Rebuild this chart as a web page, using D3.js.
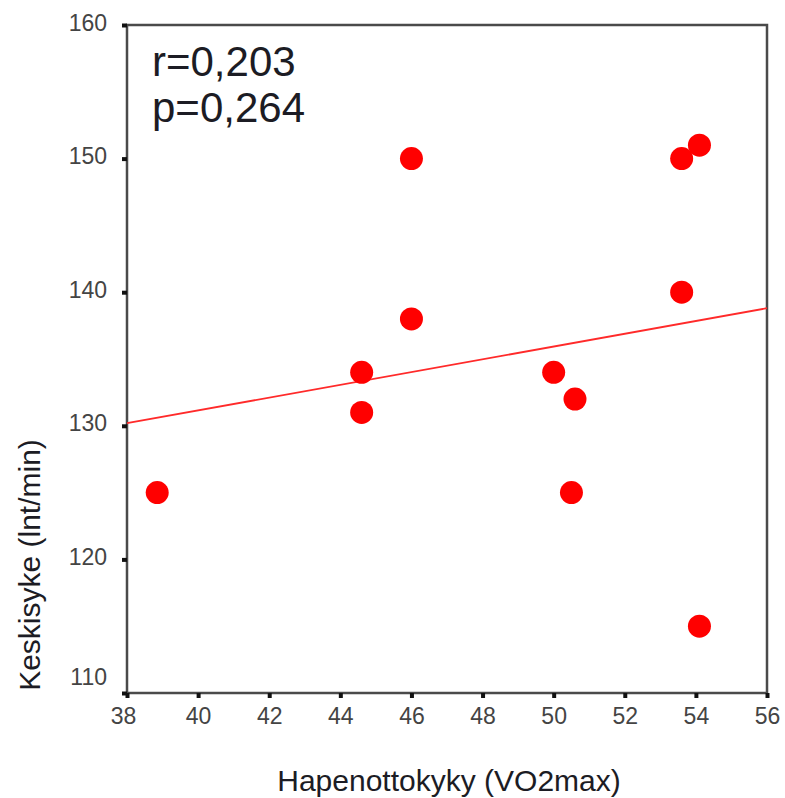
<!DOCTYPE html>
<html lang="fi">
<head>
<meta charset="utf-8">
<script src="https://d3js.org/d3.v7.min.js"></script>
<style>
body { margin: 0; background: #fff; }
.tick text { font-family: "Liberation Sans", Arial, sans-serif; fill: #444; }
.title { font-family: "Liberation Sans", Arial, sans-serif; fill: #1c1c24; }
</style>
</head>
<body>
<svg width="785" height="798"></svg>
<script>
// VO2max (x) vs mean heart rate (y), visible points
var vo2 = [38.85, 44.6, 44.6, 46.0, 46.0, 50.0, 50.6, 50.5, 53.6, 54.1, 53.6, 54.1];
var hr  = [125,   134,  131,  138,  150,  134,  132,  125,  150,  151,  140,  115];

// fitted line end points
var fitX = [38, 56];
var fitY = [130.2, 138.8];

var xTicks = [38, 40, 42, 44, 46, 48, 50, 52, 54, 56];
var yTicks = [110, 120, 130, 140, 150, 160];
var statLines = ["r=0,203", "p=0,264"];

var svg = d3.select("svg"),
    margin = {top: 25, right: 18, bottom: 105, left: 127},
    width = +svg.attr("width") - margin.left - margin.right,
    height = +svg.attr("height") - margin.top - margin.bottom;

var x = d3.scaleLinear().domain([38, 56]).range([0, width]);
var y = d3.scaleLinear().domain([110, 160]).range([height, 0]);

var g = svg.append("g")
    .attr("transform", "translate(" + margin.left + "," + margin.top + ")");

// frame
g.append("rect")
    .attr("width", width)
    .attr("height", height)
    .attr("fill", "none")
    .attr("stroke", "#4a4a4a")
    .attr("stroke-width", 2.5);

// x axis
var xAxis = g.append("g")
    .attr("transform", "translate(0," + height + ")")
    .call(d3.axisBottom(x).tickValues(xTicks).tickSize(5).tickSizeOuter(0).tickPadding(10));
xAxis.select(".domain").remove();
xAxis.selectAll(".tick line").attr("stroke", "#111").attr("stroke-width", 4);
xAxis.selectAll(".tick text").attr("font-size", 23)
    .attr("dx", function(d) { return d === 38 ? -4 : 0; });

// y axis
var yAxis = g.append("g")
    .call(d3.axisLeft(y).tickValues(yTicks).tickSize(5).tickSizeOuter(0).tickPadding(15));
yAxis.select(".domain").remove();
yAxis.selectAll(".tick line").attr("stroke", "#111").attr("stroke-width", 4);
yAxis.selectAll(".tick text").attr("font-size", 23)
    .attr("dy", function(d) { return d === 110 ? "-0.35em" : "0.22em"; });

// regression line
g.append("line")
    .attr("x1", x(fitX[0])).attr("y1", y(fitY[0]))
    .attr("x2", x(fitX[1])).attr("y2", y(fitY[1]))
    .attr("stroke", "#ff2a2a")
    .attr("stroke-width", 1.8);

// points
var pts = vo2.map(function(v, i) { return {x: v, y: hr[i]}; });
g.selectAll(".dot")
    .data(pts)
    .enter().append("circle")
      .attr("class", "dot")
      .attr("cx", function(d) { return x(d.x); })
      .attr("cy", function(d) { return y(d.y); })
      .attr("r", 11.5)
      .attr("fill", "#ff0000");

// r / p text
svg.selectAll(".stat")
    .data(statLines)
    .enter().append("text")
      .attr("class", "title stat")
      .attr("x", 152)
      .attr("y", function(d, i) { return 76 + i * 46; })
      .attr("font-size", 42)
      .text(function(d) { return d; });

// axis titles
svg.append("text")
    .attr("class", "title")
    .attr("x", 449)
    .attr("y", 791)
    .attr("text-anchor", "middle")
    .attr("font-size", 30)
    .text("Hapenottokyky (VO2max)");

svg.append("text")
    .attr("class", "title")
    .attr("transform", "translate(40,565) rotate(-90)")
    .attr("text-anchor", "middle")
    .attr("font-size", 30)
    .text("Keskisyke (lnt/min)");
</script>
</body>
</html>
